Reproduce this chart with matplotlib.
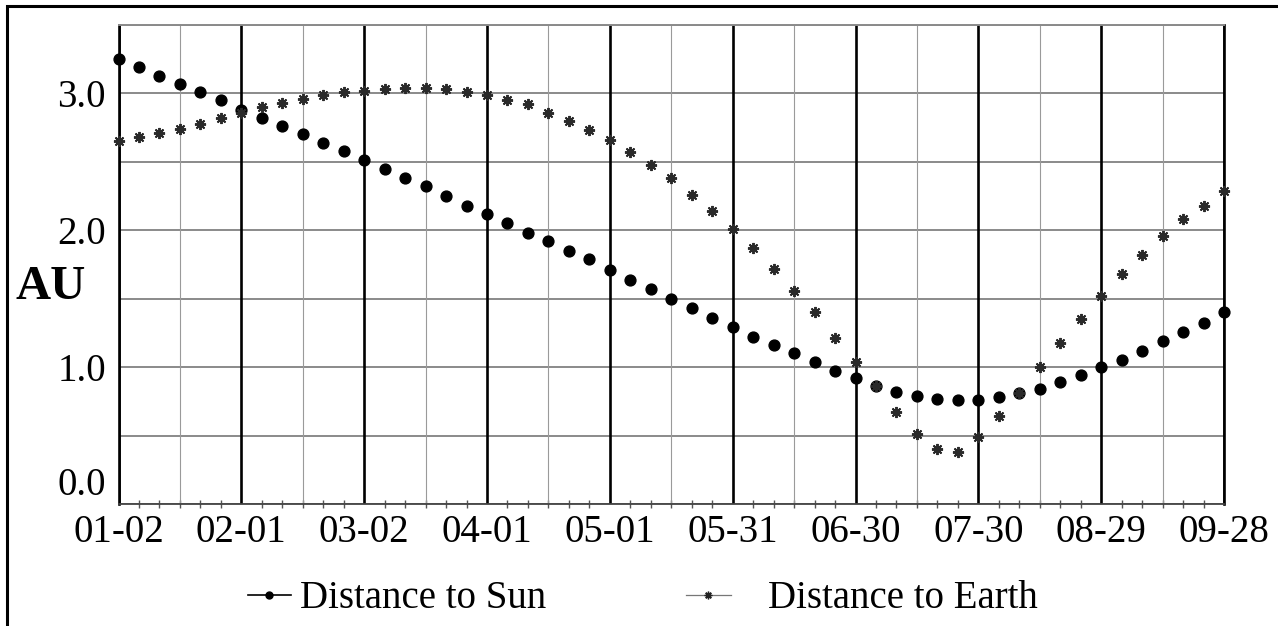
import matplotlib
matplotlib.use("Agg")
import matplotlib.pyplot as plt
from matplotlib.lines import Line2D
from matplotlib.patches import Rectangle
import numpy as np

# days since 01-02, one reading every 5 days
days = list(range(0, 275, 5))

sun = [3.25, 3.19, 3.13, 3.07, 3.01, 2.95, 2.88, 2.82, 2.76, 2.70,
       2.64, 2.58, 2.51, 2.45, 2.38, 2.32, 2.25, 2.18, 2.12, 2.05,
       1.98, 1.92, 1.85, 1.79, 1.71, 1.64, 1.57, 1.50, 1.43, 1.36,
       1.29, 1.22, 1.16, 1.10, 1.04, 0.97, 0.92, 0.86, 0.82, 0.79,
       0.77, 0.76, 0.76, 0.78, 0.81, 0.84, 0.89, 0.94, 1.00, 1.05,
       1.12, 1.19, 1.26, 1.32, 1.40]

earth = [2.65, 2.68, 2.71, 2.74, 2.78, 2.82, 2.86, 2.90, 2.93, 2.96,
         2.99, 3.01, 3.02, 3.03, 3.04, 3.04, 3.03, 3.01, 2.99, 2.95,
         2.92, 2.86, 2.80, 2.73, 2.66, 2.57, 2.48, 2.38, 2.26, 2.14,
         2.01, 1.87, 1.72, 1.56, 1.40, 1.21, 1.04, 0.86, 0.67, 0.51,
         0.40, 0.38, 0.49, 0.64, 0.81, 1.00, 1.18, 1.35, 1.52, 1.68,
         1.82, 1.96, 2.08, 2.18, 2.29]

date_labels = ["01-02", "02-01", "03-02", "04-01", "05-01",
               "05-31", "06-30", "07-30", "08-29", "09-28"]

W, H = 1278, 626
serif = ["Liberation Serif", "DejaVu Serif"]
plt.rcParams["font.family"] = serif

fig = plt.figure(figsize=(W / 100, H / 100), dpi=100)
# outer frame of the scanned figure
fig.patches.append(Rectangle((7 / W, -0.1), 1.2, (H - 6) / H + 0.1,
                             transform=fig.transFigure, fill=False,
                             edgecolor="black", linewidth=2.2))

ax = fig.add_axes([118.5 / W, 122 / H, (1224 - 118.5) / W, (601 - 122) / H])
ax.set_xlim(0, 270)
ax.set_ylim(0, 3.5)

major_x = np.arange(0, 271, 30)
ax.set_xticks(major_x)
ax.set_xticklabels(date_labels)
ax.set_xticks(np.arange(0, 271, 5), minor=True)
ax.set_yticks([0, 1, 2, 3])
ax.set_yticklabels(["0.0", "1.0", "2.0", "3.0"])
ax.set_yticks([0.5, 1.5, 2.5, 3.5], minor=True)

ax.tick_params(axis="x", which="major", length=0, pad=7, labelsize=28)
ax.tick_params(axis="x", which="minor", direction="inout", length=6,
               width=1, color="#555555")
ax.tick_params(axis="y", which="both", length=0, pad=9, labelsize=28)
ax.get_yticklabels()[0].set_verticalalignment("bottom")

# grid
ax.yaxis.grid(True, which="both", color="#8a8a8a", linewidth=1.4)
for d in major_x:
    ax.axvline(d, color="black", linewidth=1.9, zorder=1)
for d in np.arange(15, 271, 30):
    ax.axvline(d, color="#9a9a9a", linewidth=0.8, zorder=1)
ax.set_axisbelow(True)

for s in ["left", "right"]:
    ax.spines[s].set_color("black")
    ax.spines[s].set_linewidth(1.9)
ax.spines["top"].set_color("#8a8a8a")
ax.spines["top"].set_linewidth(1.4)
ax.spines["bottom"].set_color("#444444")
ax.spines["bottom"].set_linewidth(1.3)

ax.plot(days, sun, linestyle="none", marker="o", markersize=7.8,
        color="black", zorder=3, clip_on=False)
ax.plot(days, earth, linestyle="none", marker=(8, 2, 0), markersize=8,
        markeredgewidth=1.4, color="#2a2a2a", zorder=4, clip_on=False)

fig.text(51 / W, (H - 287) / H, "AU", fontsize=35, fontweight="bold",
         ha="center", va="center")

# legend entries
h_sun = Line2D([], [], color="black", linewidth=1.2, marker="o", markersize=5)
h_earth = Line2D([], [], color="#777777", linewidth=0.9, marker=(8, 2, 0),
                 markersize=5.5, markeredgewidth=1, markeredgecolor="#222222")
leg1 = fig.legend([h_sun], ["Distance to Sun"], loc="center left",
                  bbox_to_anchor=(248 / W, (H - 599) / H), frameon=False,
                  fontsize=28, handlelength=1.1, handletextpad=0.25,
                  borderpad=0, borderaxespad=0)
leg2 = fig.legend([h_earth], ["Distance to Earth"], loc="center left",
                  bbox_to_anchor=(686 / W, (H - 599) / H), frameon=False,
                  fontsize=28, handlelength=1.15, handletextpad=0.95,
                  borderpad=0, borderaxespad=0)

fig.savefig("out.png", dpi=100)
